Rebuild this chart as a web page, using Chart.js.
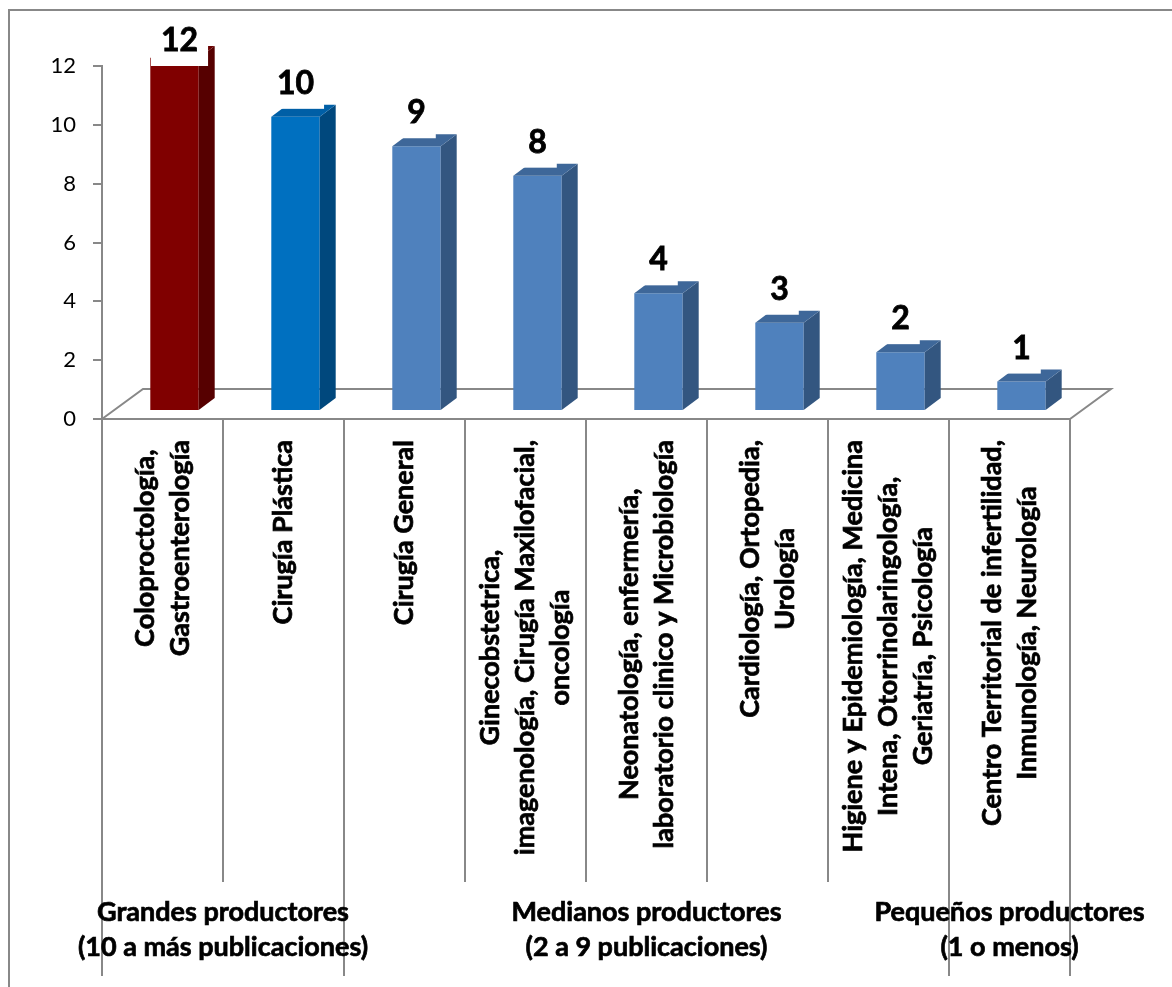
<!DOCTYPE html>
<html>
<head>
<meta charset="utf-8">
<script src="https://cdn.jsdelivr.net/npm/chart.js@4.4.1/dist/chart.umd.min.js"></script>
<style>
  html, body { margin: 0; padding: 0; background: #fff; }
  #wrap { position: relative; width: 1172px; height: 987px; }
</style>
</head>
<body>
<div id="wrap"><canvas id="chart"></canvas></div>
<script>
// categories (each entry = lines of the rotated label)
const categories = [
  ["Coloproctología,", "Gastroenterología"],
  ["Cirugía Plástica"],
  ["Cirugía General"],
  ["Ginecobstetrica,", "imagenología, Cirugía Maxilofacial,", "oncología"],
  ["Neonatología, enfermería,", "laboratorio clinico y Microbiología"],
  ["Cardiología, Ortopedia,", "Urología"],
  ["Higiene y Epidemiología, Medicina", "Intena, Otorrinolaringología,", "Geriatría, Psicología"],
  ["Centro Territorial de infertilidad,", "Inmunología, Neurología"],
];
const values = [12, 10, 9, 8, 4, 3, 2, 1];

const groupLabels = [
  ["Grandes productores", "(10 a más publicaciones)"],
  ["Medianos productores", "(2 a 9 publicaciones)"],
  ["Pequeños productores", "(1 o menos)"],
];
const groupEdges = [0, 2, 7, 8];

const yMin = 0, yMax = 12, yStep = 2;

// bar colours: front / top / side
const frontColors = ["#800000", "#0070C0", "#4F81BD", "#4F81BD", "#4F81BD", "#4F81BD", "#4F81BD", "#4F81BD"];
const topColors   = ["#6a0000", "#005fa6", "#3e6799", "#3e6799", "#3e6799", "#3e6799", "#3e6799", "#3e6799"];
const sideColors  = ["#560000", "#00487d", "#335680", "#335680", "#335680", "#335680", "#335680", "#335680"];

const GRAY = "#888888";
const FONT = "Lato";
const DEPTH_X = 16, DEPTH_Y = -12;   // bar depth
const SHIFT_X = 12, SHIFT_Y = -8;    // bars sit a bit back on the floor
const FLOOR_X = 41, FLOOR_Y = -30;   // floor depth

// bold text, a bit heavier (reference font is very dark)
function heavyText(ctx, txt, x, y) {
  ctx.fillText(txt, x, y);
  ctx.strokeText(txt, x, y);
}

const threeD = {
  id: "threeD",
  beforeDatasetsDraw(chart) {
    const { ctx, chartArea: a, scales: { x } } = chart;
    const half = (x.getPixelForValue(1) - x.getPixelForValue(0)) / 2;
    ctx.save();
    ctx.strokeStyle = GRAY;
    ctx.lineWidth = 2;
    // floor outline
    ctx.beginPath();
    ctx.moveTo(a.left, a.bottom);
    ctx.lineTo(a.left + FLOOR_X, a.bottom + FLOOR_Y);
    ctx.lineTo(a.right + FLOOR_X, a.bottom + FLOOR_Y);
    ctx.lineTo(a.right, a.bottom);
    ctx.stroke();
    // separators under the axis
    for (let i = 0; i <= categories.length; i++) {
      const px = i < categories.length ? x.getPixelForValue(i) - half : x.getPixelForValue(i - 1) + half;
      const long = groupEdges.includes(i);
      ctx.beginPath();
      ctx.moveTo(px, a.bottom);
      ctx.lineTo(px, long ? 976 : 882);
      ctx.stroke();
    }
    // category labels, rotated
    ctx.fillStyle = "#000";
    ctx.strokeStyle = "#000";
    ctx.lineWidth = 0.7;
    ctx.font = "bold 27px " + FONT;
    ctx.textAlign = "center";
    ctx.textBaseline = "middle";
    categories.forEach((lines, i) => {
      const cx = x.getPixelForValue(i);
      const w = Math.max(...lines.map(l => ctx.measureText(l).width));
      const cy = 440 + w / 2;
      lines.forEach((l, j) => {
        const lx = cx + (j - (lines.length - 1) / 2) * 35;
        ctx.save();
        ctx.translate(lx, cy);
        ctx.rotate(-Math.PI / 2);
        heavyText(ctx, l, 0, 0);
        ctx.restore();
      });
    });
    // group labels
    groupLabels.forEach((lines, g) => {
      const x0 = x.getPixelForValue(groupEdges[g]) - half;
      const x1 = x.getPixelForValue(groupEdges[g + 1] - 1) + half;
      lines.forEach((l, j) => heavyText(ctx, l, (x0 + x1) / 2, 912 + j * 35));
    });
    ctx.restore();
    // shift the front faces drawn by Chart.js
    ctx.save();
    ctx.translate(SHIFT_X, SHIFT_Y);
  },
  afterDatasetsDraw(chart) {
    const { ctx } = chart;
    ctx.restore();
    const meta = chart.getDatasetMeta(0);
    ctx.save();
    meta.data.forEach((el, i) => {
      const L = el.x - el.width / 2 + SHIFT_X, R = el.x + el.width / 2 + SHIFT_X;
      const T = el.y + SHIFT_Y, B = el.base + SHIFT_Y;
      ctx.fillStyle = sideColors[i];
      ctx.beginPath();
      ctx.moveTo(R, T); ctx.lineTo(R + DEPTH_X, T + DEPTH_Y);
      ctx.lineTo(R + DEPTH_X, B + DEPTH_Y); ctx.lineTo(R, B);
      ctx.closePath(); ctx.fill();
      ctx.fillStyle = topColors[i];
      ctx.beginPath();
      ctx.moveTo(L, T); ctx.lineTo(R, T);
      ctx.lineTo(R + DEPTH_X, T + DEPTH_Y); ctx.lineTo(L + DEPTH_X, T + DEPTH_Y);
      ctx.closePath(); ctx.fill();
    });
    // value labels with white boxes
    ctx.font = "bold 32px " + FONT;
    ctx.textAlign = "center";
    ctx.textBaseline = "alphabetic";
    ctx.strokeStyle = "#000";
    ctx.lineWidth = 0.8;
    meta.data.forEach((el, i) => {
      const txt = String(values[i]);
      const cx = el.x + SHIFT_X + (i === 0 ? 5 : 0);
      const T = el.y + SHIFT_Y;
      const m = ctx.measureText(txt);
      const h = m.actualBoundingBoxAscent || 22;
      let base = T - 23;
      if (base - h < 27) base = 27 + h;
      ctx.fillStyle = "#fff";
      ctx.fillRect(cx - m.width / 2 - 10, base - h - 8, m.width + 20, h + 23);
      ctx.fillStyle = "#000";
      heavyText(ctx, txt, cx, base);
    });
    ctx.restore();
  },
  afterDraw(chart) {
    const { ctx } = chart;
    ctx.save();
    ctx.strokeStyle = GRAY;
    ctx.lineWidth = 2;
    ctx.strokeRect(9, 10, 1200, 1000);
    ctx.restore();
  }
};

new Chart(document.getElementById("chart"), {
  type: "bar",
  data: {
    labels: categories.map(c => c.join(" ")),
    datasets: [{
      data: values,
      backgroundColor: frontColors,
      barPercentage: 0.4,
      categoryPercentage: 1,
      clip: false,
    }],
  },
  options: {
    responsive: true,
    maintainAspectRatio: false,
    animation: false,
    layout: { padding: { left: 0, top: 66, right: 102, bottom: 568 } },
    plugins: { legend: { display: false }, tooltip: { enabled: false } },
    scales: {
      x: {
        grid: { display: false },
        ticks: { display: false },
        border: { color: GRAY, width: 2 },
        afterFit(s) { s.height = 0; },
      },
      y: {
        min: yMin,
        max: yMax,
        ticks: { stepSize: yStep, color: "#000", padding: 17, font: { family: FONT, size: 22 } },
        grid: { drawOnChartArea: false, tickLength: 9, color: GRAY, lineWidth: 2 },
        border: { color: GRAY, width: 2 },
        afterFit(s) { s.width = 102; },
      },
    },
  },
  plugins: [threeD],
});
</script>
</body>
</html>
